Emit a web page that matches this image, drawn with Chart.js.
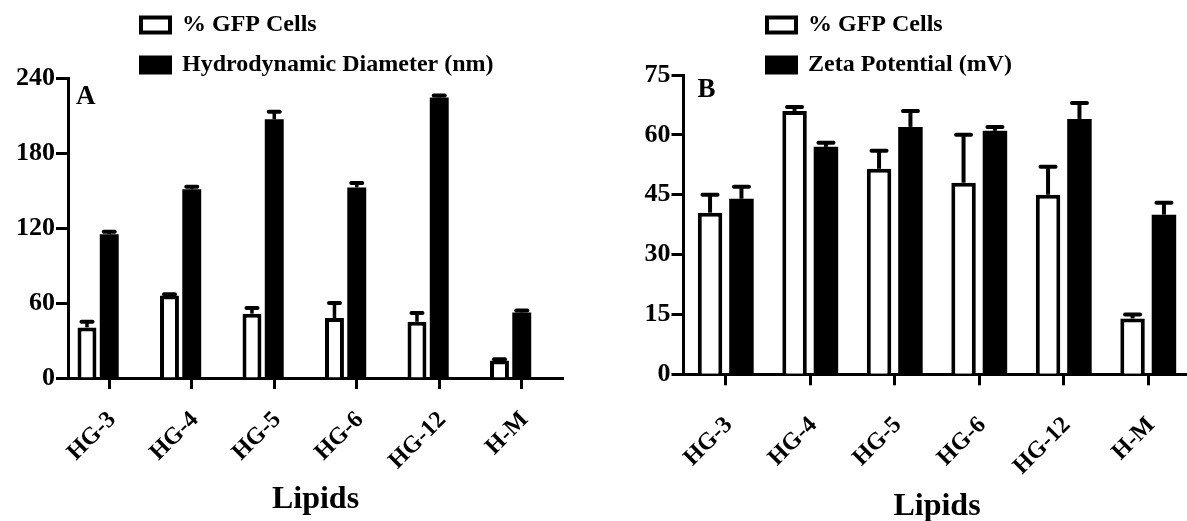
<!DOCTYPE html>
<html>
<head>
<meta charset="utf-8">
<script src="https://cdn.jsdelivr.net/npm/chart.js@4.4.0/dist/chart.umd.min.js"></script>
<style>
  html, body { margin: 0; padding: 0; background: #fff; overflow: hidden; width: 1187px; height: 521px; }
  #cadreA { position: absolute; left: 0; top: 0; width: 590px; height: 521px; }
  #cadreB { position: absolute; left: 590px; top: 0; width: 610px; height: 528px; }
</style>
</head>
<body>
<div id="cadreA"><canvas id="graphA"></canvas></div>
<div id="cadreB"><canvas id="graphB"></canvas></div>
<script>
// Lipides testés
var lipides = ['HG-3', 'HG-4', 'HG-5', 'HG-6', 'HG-12', 'H-M'];

// % de cellules GFP (moyenne et erreur)
var gfp = [40.5, 66, 51.5, 48, 45, 14];
var gfpErr = [4.5, 1, 4.5, 12, 7, 1];

// Diamètre hydrodynamique (nm)
var diametre = [115, 151, 207, 152.5, 224.5, 52.5];
var diametreErr = [2, 2, 6, 3.5, 1.5, 1.5];

// Potentiel zêta (mV)
var zeta = [44, 57, 62, 61, 64, 40];
var zetaErr = [3, 1, 4, 1, 4, 3];

// Graduations des axes y
var ticksA = [0, 60, 120, 180, 240];
var ticksB = [0, 15, 30, 45, 60, 75];

Chart.defaults.font.family = '"Liberation Serif", "Times New Roman", serif';
Chart.defaults.font.weight = 'bold';
Chart.defaults.color = '#000';

// barres d'erreur (vers le haut seulement)
var barresErreur = {
  id: 'barresErreur',
  afterDatasetsDraw: function(chart, args, opts) {
    var ctx = chart.ctx, y = chart.scales.y;
    chart.data.datasets.forEach(function(ds, i) {
      if (!ds.erreurs) return;
      var meta = chart.getDatasetMeta(i);
      meta.data.forEach(function(barre, j) {
        var haut = y.getPixelForValue(ds.data[j] + ds.erreurs[j]);
        ctx.save();
        ctx.strokeStyle = '#000';
        ctx.lineWidth = opts.trait;
        ctx.beginPath();
        ctx.moveTo(barre.x, barre.y);
        ctx.lineTo(barre.x, haut);
        ctx.stroke();
        ctx.lineCap = 'round';
        ctx.lineWidth = opts.epaisseurCap;
        ctx.beginPath();
        ctx.moveTo(barre.x - opts.cap / 2, haut);
        ctx.lineTo(barre.x + opts.cap / 2, haut);
        ctx.stroke();
        ctx.restore();
      });
    });
  }
};

// lettre du panneau (A / B)
var lettre = {
  id: 'lettre',
  afterDraw: function(chart, args, opts) {
    var ctx = chart.ctx, zone = chart.chartArea;
    ctx.save();
    ctx.font = 'bold 27px "Liberation Serif", serif';
    ctx.fillStyle = '#000';
    ctx.textBaseline = 'alphabetic';
    ctx.fillText(opts.texte, zone.left + opts.dx, zone.top + opts.dy);
    ctx.restore();
  }
};

// place la légende au-dessus de la zone du graphique
var legendePlacee = {
  id: 'legendePlacee',
  afterLayout: function(chart, args, opts) {
    var lg = chart.legend;
    lg.left = opts.x;
    lg.top = opts.y;
    lg.right = opts.x + 520;
    lg.bottom = opts.y + 130;
    lg.width = 520;
    lg.height = 130;
  }
};

function optionsLegende() {
  return {
    position: 'chartArea',
    align: 'start',
    labels: {
      color: '#000',
      font: { size: 24, weight: 'bold' },
      boxWidth: 29,
      boxHeight: 15,
      padding: 16,
      generateLabels: function(chart) {
        var items = Chart.defaults.plugins.legend.labels.generateLabels(chart);
        items.forEach(function(it) { it.lineWidth = 4; it.strokeStyle = '#000'; });
        return items;
      },
      filter: function(item, data) { return !!data.datasets[item.datasetIndex].label; }
    }
  };
}

function axeX(hauteur, ecart) {
  return {
    offset: true,
    grid: { display: true, drawOnChartArea: false, offset: false, tickLength: 11, tickWidth: 3, tickColor: '#000' },
    border: { display: true, color: '#000', width: 3 },
    ticks: { color: '#000', font: { size: 24, weight: 'bold' }, minRotation: 45, maxRotation: 45, autoSkip: false, padding: ecart, labelOffset: 3 },
    title: { display: true, text: 'Lipids', color: '#000', font: { size: 32, weight: 'bold' }, padding: { top: 0, bottom: 2 } },
    afterFit: function(s) { s.height = hauteur; }
  };
}

function axeY(graduations, largeur) {
  return {
    min: graduations[0],
    max: graduations[graduations.length - 1],
    afterBuildTicks: function(s) { s.ticks = graduations.map(function(v) { return { value: v }; }); },
    grid: { display: true, drawOnChartArea: false, tickLength: 12, tickWidth: 3, tickColor: '#000' },
    border: { display: true, color: '#000', width: 3 },
    ticks: { color: '#000', font: { size: 26, weight: 'bold' }, padding: 1 },
    afterFit: function(s) { s.width = largeur; }
  };
}

// Panneau A : % GFP et diamètre hydrodynamique
new Chart(document.getElementById('graphA'), {
  type: 'bar',
  data: {
    labels: lipides,
    datasets: [
      { label: '% GFP Cells', data: gfp, erreurs: gfpErr, backgroundColor: '#fff', borderColor: '#000', borderWidth: 4 },
      { label: 'Hydrodynamic Diameter (nm)', data: diametre, erreurs: diametreErr, backgroundColor: '#000', borderWidth: 0 },
      { label: '', data: [] } // place vide (comme dans le graphique d'origine)
    ]
  },
  options: {
    responsive: true,
    maintainAspectRatio: false,
    animation: false,
    datasets: { bar: { categoryPercentage: 0.81, barPercentage: 0.85 } },
    layout: { padding: { left: 0, right: 27, top: 78, bottom: 0 } },
    scales: { x: axeX(143, 17), y: axeY(ticksA, 68) },
    plugins: {
      legend: optionsLegende(),
      tooltip: { enabled: false },
      barresErreur: { trait: 3.5, cap: 11, epaisseurCap: 4 },
      lettre: { texte: 'A', dx: 8, dy: 26 },
      legendePlacee: { x: 125, y: -3 }
    }
  },
  plugins: [barresErreur, lettre, legendePlacee]
});

// Panneau B : % GFP et potentiel zêta
new Chart(document.getElementById('graphB'), {
  type: 'bar',
  data: {
    labels: lipides,
    datasets: [
      { label: '% GFP Cells', data: gfp, erreurs: gfpErr, backgroundColor: '#fff', borderColor: '#000', borderWidth: 4 },
      { label: 'Zeta Potential (mV)', data: zeta, erreurs: zetaErr, backgroundColor: '#000', borderWidth: 0 }
    ]
  },
  options: {
    responsive: true,
    maintainAspectRatio: false,
    animation: false,
    datasets: { bar: { categoryPercentage: 0.743, barPercentage: 0.78 } },
    layout: { padding: { left: 0, right: 9.5, top: 75, bottom: 0 } },
    scales: { x: axeX(153.7, 26), y: axeY(ticksB, 93.5) },
    plugins: {
      legend: optionsLegende(),
      tooltip: { enabled: false },
      barresErreur: { trait: 4, cap: 15, epaisseurCap: 4 },
      lettre: { texte: 'B', dx: 14, dy: 22 },
      legendePlacee: { x: 161, y: -3 }
    }
  },
  plugins: [barresErreur, lettre, legendePlacee]
});
</script>
</body>
</html>
